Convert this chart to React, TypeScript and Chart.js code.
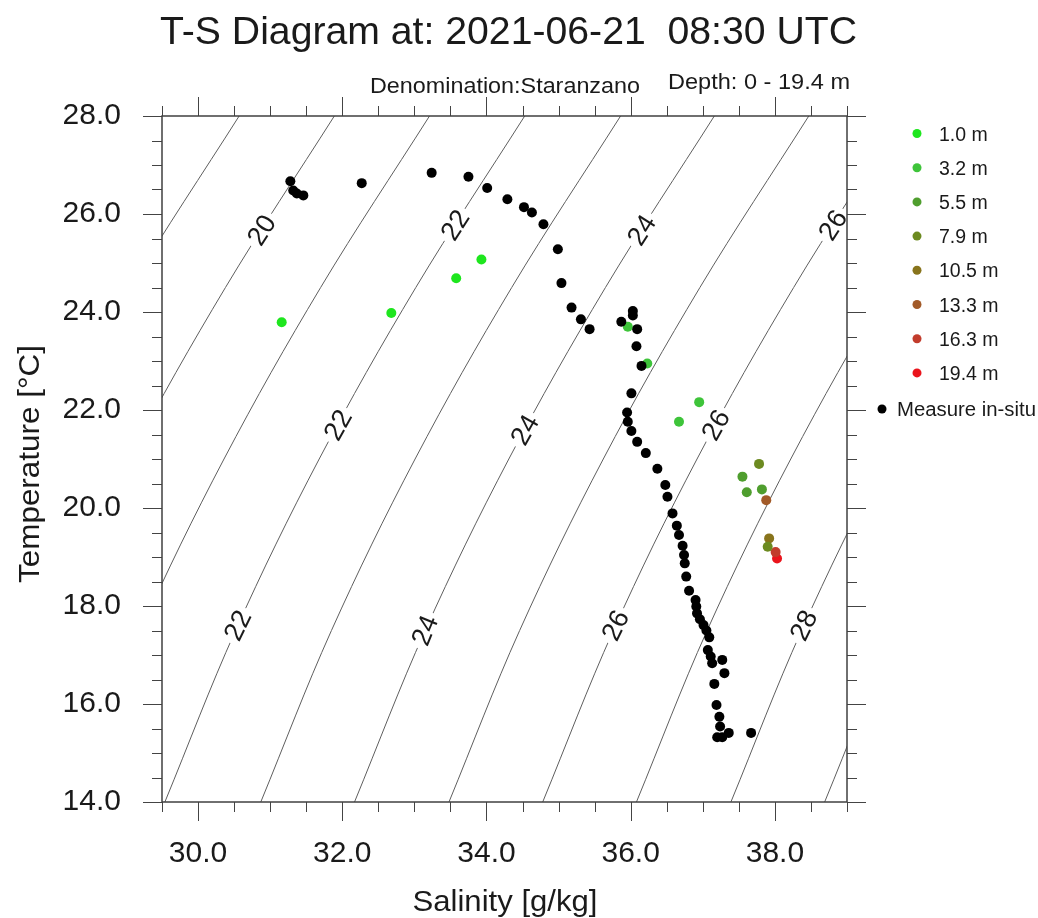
import React, { useEffect, useRef } from 'react';
import { Chart, registerables } from 'chart.js';

Chart.register(...registerables);

// ---------------- data ----------------
const depthLabels = ['1.0 m', '3.2 m', '5.5 m', '7.9 m', '10.5 m', '13.3 m', '16.3 m', '19.4 m'];
const depthColors = ['#1ee61e', '#3ec43a', '#4f9e2e', '#6c8a20', '#88741c', '#a25a28', '#c23c2c', '#ea141c'];

// model points per depth level (salinity g/kg, temperature °C)
const modelSal: number[][] = [
  [31.16, 32.68, 33.58, 33.93],
  [35.96, 36.23, 36.67, 36.95],
  [37.55, 37.61, 37.82],
  [37.78, 37.9],
  [37.92],
  [37.88],
  [38.01],
  [38.03],
];
const modelTemp: number[][] = [
  [23.79, 23.98, 24.69, 25.07],
  [23.7, 22.95, 21.76, 22.16],
  [20.64, 20.32, 20.38],
  [20.9, 19.21],
  [19.38],
  [20.16],
  [19.1],
  [18.97],
];

// in-situ measurements
const insituSal = [
  31.28, 31.32, 31.37, 31.46, 32.27, 33.24, 33.75, 34.01, 34.29, 34.52,
  34.63, 34.79, 34.99, 35.04, 35.18, 35.31, 35.43, 35.87, 36.03, 36.03,
  36.09, 36.08, 36.15, 36.01, 35.95, 35.96, 36.01, 36.09, 36.21, 36.37,
  36.48, 36.51, 36.58, 36.64, 36.67, 36.72, 36.74, 36.75, 36.77, 36.81,
  36.9, 36.91, 36.92, 36.96, 37.01, 37.05, 37.09, 37.07, 37.11, 37.13,
  37.27, 37.3, 37.16, 37.19, 37.23, 37.24, 37.2, 37.27, 37.36, 37.67,
];
const insituTemp = [
  26.67, 26.48, 26.42, 26.38, 26.63, 26.84, 26.76, 26.53, 26.3, 26.14,
  26.03, 25.79, 25.28, 24.59, 24.09, 23.85, 23.65, 23.8, 24.02, 23.93,
  23.65, 23.3, 22.9, 22.34, 21.95, 21.76, 21.57, 21.35, 21.12, 20.8,
  20.47, 20.23, 19.89, 19.64, 19.45, 19.23, 19.04, 18.87, 18.6, 18.31,
  18.12, 17.99, 17.85, 17.73, 17.61, 17.5, 17.36, 17.1, 16.97, 16.83,
  16.9, 16.63, 16.41, 15.98, 15.74, 15.54, 15.32, 15.32, 15.41, 15.41,
];

// isopycnal (sigma) lines: salinity at each listed temperature
const isoLevels = [19, 20, 21, 22, 23, 24, 25, 26, 27, 28, 29];
const isoTemps = [14, 17.5, 21, 24.5, 28];
const isoSal: number[][] = [
  [25.58, 26.56, 27.72, 29.06, 30.57],
  [26.9, 27.88, 29.04, 30.38, 31.89],
  [28.22, 29.2, 30.36, 31.7, 33.21],
  [29.54, 30.52, 31.68, 33.02, 34.53],
  [30.87, 31.85, 33.01, 34.35, 35.86],
  [32.17, 33.15, 34.31, 35.65, 37.16],
  [33.48, 34.46, 35.62, 36.96, 38.47],
  [34.78, 35.76, 36.92, 38.26, 39.77],
  [36.08, 37.06, 38.22, 39.56, 41.07],
  [37.39, 38.37, 39.53, 40.87, 42.38],
  [38.69, 39.67, 40.83, 42.17, 43.68],
];

// contour labels: level and temperature where the label sits
const contourLabelLevel = [20, 22, 22, 22, 24, 24, 24, 26, 26, 26, 28];
const contourLabelTemp = [25.67, 25.77, 21.69, 17.6, 25.67, 21.59, 17.5, 25.77, 21.69, 17.6, 17.6];

const titleText = 'T-S Diagram at: 2021-06-21  08:30 UTC';
const subLeftText = 'Denomination:Staranzano';
const subRightText = 'Depth: 0 - 19.4 m';
const xTitle = 'Salinity [g/kg]';
const yTitle = 'Temperature [\u00B0C]';
const insituLabel = 'Measure in-situ';

const X_MIN = 29.5;
const X_MAX = 39.0;
const Y_MIN = 14;
const Y_MAX = 28;

const FONT = '"Liberation Sans", Arial, Helvetica, sans-serif';
const TEXT = '#1a1a1a';

function drawText(
  ctx: CanvasRenderingContext2D,
  text: string,
  x: number,
  y: number,
  size: number,
  width: number,
  align: CanvasTextAlign,
  rotate = 0
) {
  ctx.save();
  ctx.font = `${size}px ${FONT}`;
  const w = ctx.measureText(text).width;
  const sx = width > 0 ? width / w : 1;
  ctx.translate(x, y);
  if (rotate) ctx.rotate(rotate);
  ctx.scale(sx, 1);
  ctx.textAlign = align;
  ctx.textBaseline = 'alphabetic';
  ctx.fillStyle = TEXT;
  ctx.fillText(text, 0, 0);
  ctx.restore();
}

const isMajor = (v: number) => Math.abs(v / 2 - Math.round(v / 2)) < 1e-6;

export default function App() {
  const ref = useRef<HTMLCanvasElement | null>(null);

  useEffect(() => {
    if (!ref.current) return;

    const insitu = {
      label: insituLabel,
      data: insituSal.map((s, i) => ({ x: s, y: insituTemp[i] })),
      backgroundColor: '#000000',
      borderWidth: 0,
      pointRadius: 5,
      pointHoverRadius: 5,
      showLine: false,
    };
    const models = depthLabels.map((lab, k) => ({
      label: lab,
      data: modelSal[k].map((s, i) => ({ x: s, y: modelTemp[k][i] })),
      backgroundColor: depthColors[k],
      borderWidth: 0,
      pointRadius: 5,
      pointHoverRadius: 5,
      showLine: false,
    }));
    const isoSets = isoLevels.map((lev, k) => ({
      label: 'sigma ' + lev,
      data: isoTemps.map((t, i) => ({ x: isoSal[k][i], y: t })),
      borderColor: '#5e5e5e',
      borderWidth: 1,
      pointRadius: 0,
      pointHoverRadius: 0,
      showLine: true,
      tension: 0.35,
      fill: false,
    }));
    const firstIsoIndex = 1 + models.length;

    const contourPlugin = {
      id: 'contourLabels',
      afterDatasetDraw(chart: any, args: any) {
        if (args.index !== firstIsoIndex) return;
        const ctx: CanvasRenderingContext2D = chart.ctx;
        const xs = chart.scales.x;
        const ys = chart.scales.y;
        const ca = chart.chartArea;
        ctx.save();
        ctx.beginPath();
        ctx.rect(ca.left, ca.top, ca.right - ca.left, ca.bottom - ca.top);
        ctx.clip();
        contourLabelLevel.forEach((lev, i) => {
          const k = isoLevels.indexOf(lev);
          const t = contourLabelTemp[i];
          let j = 0;
          while (j < isoTemps.length - 2 && t > isoTemps[j + 1]) j++;
          const t0 = isoTemps[j];
          const t1 = isoTemps[j + 1];
          const f = (t - t0) / (t1 - t0);
          const s = isoSal[k][j] + f * (isoSal[k][j + 1] - isoSal[k][j]);
          const px = xs.getPixelForValue(s);
          const py = ys.getPixelForValue(t);
          const ax0 = xs.getPixelForValue(isoSal[k][j]);
          const ay0 = ys.getPixelForValue(t0);
          const ax1 = xs.getPixelForValue(isoSal[k][j + 1]);
          const ay1 = ys.getPixelForValue(t1);
          const ang = Math.atan2(ay1 - ay0, ax1 - ax0);
          const txt = String(lev);
          ctx.save();
          ctx.translate(px, py);
          ctx.rotate(ang);
          ctx.font = `27px ${FONT}`;
          const w = ctx.measureText(txt).width;
          ctx.fillStyle = '#ffffff';
          ctx.fillRect(-w / 2 - 4, -14, w + 8, 28);
          ctx.fillStyle = TEXT;
          ctx.textAlign = 'center';
          ctx.textBaseline = 'middle';
          ctx.fillText(txt, 0, 1);
          ctx.restore();
        });
        ctx.restore();
      },
    };

    const framePlugin = {
      id: 'frame',
      afterDraw(chart: any) {
        const ctx: CanvasRenderingContext2D = chart.ctx;
        const xs = chart.scales.x;
        const ys = chart.scales.y;
        const ca = chart.chartArea;
        ctx.save();
        // tick marks (outward), all four sides
        ctx.strokeStyle = '#444';
        ctx.lineWidth = 1;
        xs.ticks.forEach((tk: any) => {
          const v = tk.value;
          const p = Math.round(xs.getPixelForValue(v)) + 0.5;
          const len = isMajor(v) ? 19 : 10;
          ctx.beginPath();
          ctx.moveTo(p, ca.bottom);
          ctx.lineTo(p, ca.bottom + len);
          ctx.moveTo(p, ca.top);
          ctx.lineTo(p, ca.top - len);
          ctx.stroke();
        });
        ys.ticks.forEach((tk: any) => {
          const v = tk.value;
          const p = Math.round(ys.getPixelForValue(v)) + 0.5;
          const len = isMajor(v) ? 19 : 10;
          ctx.beginPath();
          ctx.moveTo(ca.left, p);
          ctx.lineTo(ca.left - len, p);
          ctx.moveTo(ca.right, p);
          ctx.lineTo(ca.right + len, p);
          ctx.stroke();
        });
        // box
        ctx.strokeStyle = '#404040';
        ctx.lineWidth = 1.5;
        ctx.strokeRect(ca.left, ca.top, ca.right - ca.left, ca.bottom - ca.top);
        ctx.restore();

        // titles
        drawText(ctx, titleText, 508.5, 44, 39, 697, 'center');
        drawText(ctx, subLeftText, 505, 93, 22, 270, 'center');
        drawText(ctx, subRightText, 759, 89, 22, 182, 'center');
        drawText(ctx, xTitle, 505, 911, 30, 185, 'center');
        drawText(ctx, yTitle, 39, 464, 30, 238, 'center', -Math.PI / 2);

        // legend
        ctx.save();
        depthLabels.forEach((lab, i) => {
          const cy = 133.5 + i * 34.2;
          ctx.beginPath();
          ctx.fillStyle = depthColors[i];
          ctx.arc(917, cy, 4.5, 0, Math.PI * 2);
          ctx.fill();
          drawText(ctx, lab, 939, cy + 7, 19.5, 0, 'left');
        });
        ctx.beginPath();
        ctx.fillStyle = '#000';
        ctx.arc(882, 409, 4.5, 0, Math.PI * 2);
        ctx.fill();
        drawText(ctx, insituLabel, 897, 416, 19.5, 139, 'left');
        ctx.restore();
      },
    };

    const chart = new Chart(ref.current, {
      type: 'scatter',
      data: { datasets: [insitu, ...models, ...isoSets] as any },
      options: {
        responsive: false,
        animation: false,
        events: [],
        layout: { padding: { top: 116, right: 191, left: 0, bottom: 0 } },
        plugins: {
          legend: { display: false },
          tooltip: { enabled: false },
          title: { display: false },
        },
        scales: {
          x: {
            type: 'linear',
            position: 'bottom',
            min: X_MIN,
            max: X_MAX,
            afterFit: (s: any) => {
              s.height = 116;
            },
            grid: { display: false, drawTicks: false, tickLength: 0 },
            border: { display: false },
            ticks: {
              stepSize: 0.5,
              autoSkip: false,
              maxRotation: 0,
              minRotation: 0,
              padding: 34,
              color: TEXT,
              font: { family: FONT, size: 30 },
              callback: (v: any) => (isMajor(Number(v)) ? Number(v).toFixed(1) : ''),
            },
          },
          y: {
            type: 'linear',
            position: 'left',
            min: Y_MIN,
            max: Y_MAX,
            afterFit: (s: any) => {
              s.width = 162;
            },
            grid: { display: false, drawTicks: false, tickLength: 0 },
            border: { display: false },
            ticks: {
              stepSize: 0.5,
              autoSkip: false,
              padding: 41,
              color: TEXT,
              font: { family: FONT, size: 30 },
              callback: (v: any) => (isMajor(Number(v)) ? Number(v).toFixed(1) : ''),
            },
          },
        },
      } as any,
      plugins: [contourPlugin, framePlugin],
    });

    return () => chart.destroy();
  }, []);

  return (
    <div style={{ position: 'absolute', left: 0, top: 0, width: 1038, height: 918, background: '#fff' }}>
      <canvas ref={ref} width={1038} height={918} style={{ display: 'block', width: 1038, height: 918 }} />
    </div>
  );
}
